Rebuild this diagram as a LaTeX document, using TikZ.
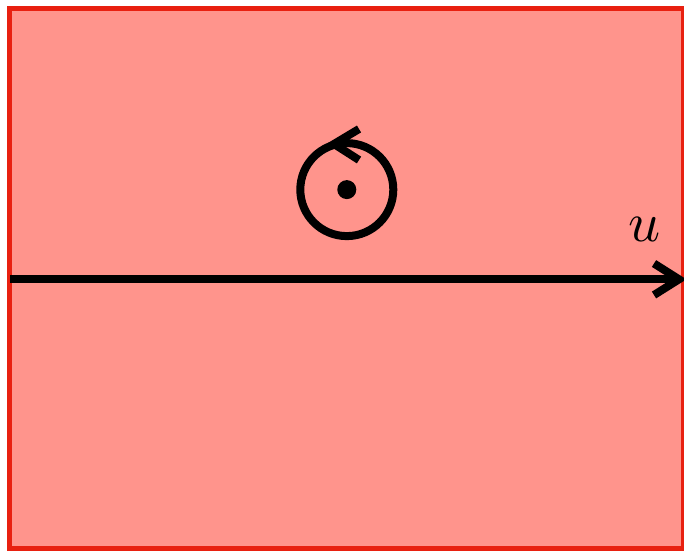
\documentclass[tikz,border=0pt]{standalone}
\definecolor{bgfill}{RGB}{255,148,140}
\definecolor{bgedge}{RGB}{232,32,16}
\tikzset{
  frame/.style={draw=bgedge, fill=bgfill, line width=5pt},
  stroke/.style={draw=black, line width=8pt},
}
\begin{document}
\begin{tikzpicture}[x=1pt,y=-1pt]
\useasboundingbox (0,0) rectangle (684,550);
\path[frame] (9.5,8.5) rectangle (683.5,548.5);
% main axis
\coordinate (L) at (10,279.3);
\coordinate (R) at (679,279.3);
\coordinate (Ra) at (654,263.5);
\coordinate (Rb) at (654,295);
\draw[stroke] (L) -- (R);
\draw[stroke, line join=miter] (Ra) -- (R) -- (Rb);
\node (u) at (645,229) [scale=5.6] {$u$};
% rotation symbol
\coordinate (C) at (346.8,189.6);
\draw[stroke] (C) circle[radius=46.5];
\fill (C) circle[radius=9.5];
\coordinate (T) at (334,144);
\coordinate (Ta) at (359,129);
\coordinate (Tb) at (359,160);
\draw[stroke, line join=miter] (Ta) -- (T) -- (Tb);
\end{tikzpicture}
\end{document}
